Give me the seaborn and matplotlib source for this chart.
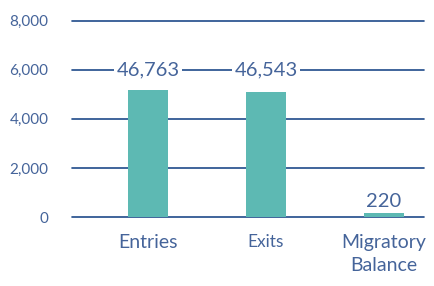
import matplotlib
matplotlib.use("Agg")
import matplotlib.pyplot as plt
import seaborn as sns
import pandas as pd

categories = ["Entries", "Exits", "Migratory\nBalance"]
bar_values = [5180, 5100, 150]
value_labels = ["46,763", "46,543", "220"]
label_y = [6000, 6000, 640]
yticks = [0, 2000, 4000, 6000, 8000]
ytick_labels = ["0", "2,000", "4,000", "6,000", "8,000"]

sns.set_theme(style="white")
plt.rcParams["font.family"] = ["Lato", "DejaVu Sans"]

navy = "#1f4a8a"
text_c = "#45649a"
bar_c = "#5db9b3"

df = pd.DataFrame({"cat": categories, "val": bar_values})

fig = plt.figure(figsize=(4.34, 2.86), dpi=100)
ax = fig.add_axes([0.166, 0.241, 0.811, 0.687])

for y in yticks:
    ax.axhline(y, color=navy, lw=1.2, zorder=1, clip_on=False)

sns.barplot(data=df, x="cat", y="val", color=bar_c, saturation=1, width=0.34,
            ax=ax, zorder=2, linewidth=0, edgecolor="none")

for i, (lab, ly) in enumerate(zip(value_labels, label_y)):
    ax.text(i, ly, lab, ha="center", va="center", fontsize=14.5, color=text_c,
            zorder=3, bbox=dict(facecolor="white", edgecolor="none", pad=1.5))

ax.set_xlim(-0.644, 2.34)
ax.set_ylim(0, 8000)
ax.set_yticks(yticks)
ax.set_yticklabels(ytick_labels, fontsize=11, color=text_c)
ax.set_xticks(range(len(categories)))
ax.set_xticklabels(categories, fontsize=14, color=text_c, linespacing=1.45)
ax.get_xticklabels()[1].set_fontsize(12.5)
ax.tick_params(axis="y", length=0, pad=17)
ax.tick_params(axis="x", length=0, pad=12)
ax.set_xlabel("")
ax.set_ylabel("")
for s in ax.spines.values():
    s.set_visible(False)

fig.savefig("out.png", dpi=100)
